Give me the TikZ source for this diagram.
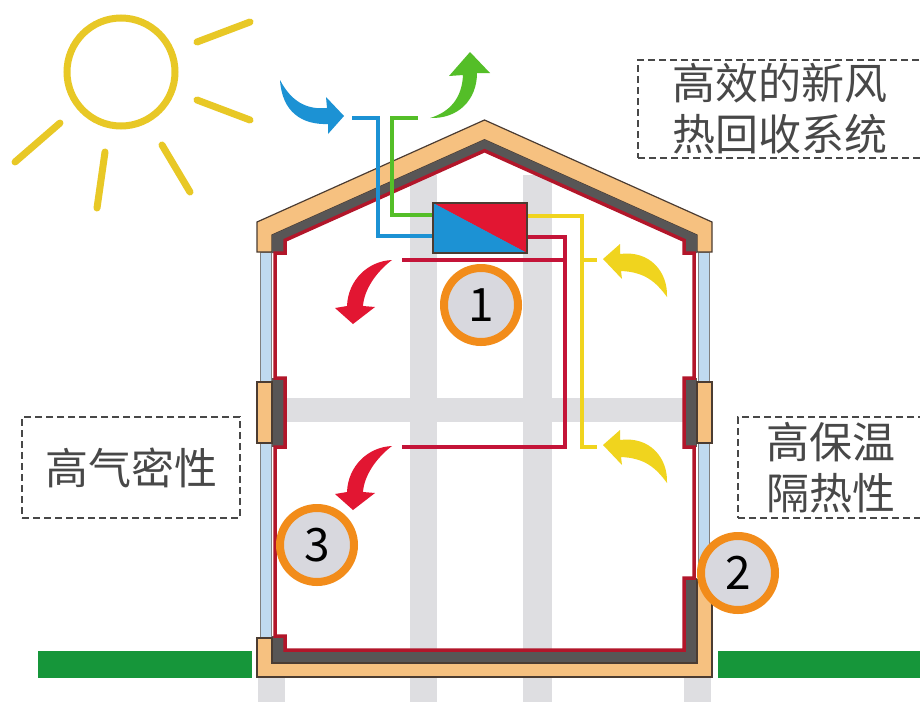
\documentclass[tikz,border=0pt]{standalone}
\usepackage{fontspec}
\setmainfont{Noto Sans CJK SC}
\usepackage{xcolor}
\usepackage{tikz}
\usetikzlibrary{positioning}

\definecolor{roofor}{RGB}{246,193,128}
\definecolor{wallgray}{RGB}{88,86,86}
\definecolor{sealred}{RGB}{178,22,42}
\definecolor{glassblue}{RGB}{192,218,240}
\definecolor{gridgray}{RGB}{222,222,225}
\definecolor{sunyel}{RGB}{232,200,38}
\definecolor{airyel}{RGB}{240,212,30}
\definecolor{airblue}{RGB}{28,146,212}
\definecolor{airgreen}{RGB}{84,190,40}
\definecolor{airred}{RGB}{226,22,50}
\definecolor{ductred}{RGB}{196,20,56}
\definecolor{ringor}{RGB}{242,140,26}
\definecolor{dotgray}{RGB}{216,216,222}
\definecolor{grass}{RGB}{22,150,58}
\definecolor{labelgray}{RGB}{72,72,72}
\definecolor{edgebrown}{RGB}{75,60,50}

\tikzset{
  duct/.style={line width=4pt},
  layer/.style={draw=edgebrown,line width=1.2pt},
  seal/.style={draw=sealred,line width=3.5pt},
  sunray/.style={sunyel,line width=7pt,line cap=round},
  numdot/.style={circle,draw=ringor,line width=8pt,fill=dotgray,minimum size=74pt,inner sep=0pt,font=\fontsize{46}{46}\selectfont},
  tagbox/.style={draw=labelgray,dash pattern=on 7pt off 4pt,line width=1.4pt,text=labelgray,align=center,inner sep=0pt,font=\fontsize{43}{51}\selectfont}
}

\begin{document}
\begin{tikzpicture}[x=1pt,y=-1pt]
\useasboundingbox (0,0) rectangle (920,702);
\fill[white] (0,0) rectangle (920,702);

% grid behind the house
\fill[gridgray] (410,175) rectangle (437,702);
\fill[gridgray] (523,175) rectangle (552,702);
\fill[gridgray] (285,398) rectangle (684,422);
\fill[gridgray] (258,677) rectangle (285,702);
\fill[gridgray] (684,677) rectangle (711,702);

% ground
\fill[grass] (38,651) rectangle (252,678);
\fill[grass] (718,651) rectangle (920,678);

% glazing
\filldraw[fill=glassblue,draw=gray,line width=1pt] (260,252) rectangle (271,638);
\filldraw[fill=glassblue,draw=gray,line width=1pt] (698,252) rectangle (709,578);

% roof
\filldraw[fill=roofor,layer] (257,252) -- (257,222) -- (484.5,120) -- (712,222) -- (712,252) -- (697,252) -- (697,235) -- (484.5,139.7) -- (272,235) -- (272,252) -- cycle;
\fill[wallgray] (272,253) -- (272,235) -- (484.5,139.7) -- (697,235) -- (697,253) -- (684,253) -- (684,240.3) -- (484.5,150.7) -- (285,240.3) -- (285,253) -- cycle;

% window frames
\fill[wallgray] (272,378) rectangle (285,447);
\fill[wallgray] (684,378) rectangle (697,447);
\filldraw[fill=roofor,layer] (257,382) rectangle (272,443);
\filldraw[fill=roofor,layer] (697,382) rectangle (712,443);

% floor slab
\fill[wallgray] (272,636) -- (285,636) -- (285,650) -- (684,650) -- (684,578) -- (697,578) -- (697,663) -- (272,663) -- cycle;
\filldraw[fill=roofor,layer] (257,638) -- (272,638) -- (272,663) -- (697,663) -- (697,580) -- (712,580) -- (712,677) -- (257,677) -- cycle;

% airtight layer
\draw[seal] (275,636) -- (285,636) -- (285,650) -- (684,650) -- (684,578) -- (694,578) -- (694,447) -- (684,447) -- (684,378) -- (694,378) -- (694,253) -- (684,253) -- (684,240.3) -- (484.5,150.7) -- (285,240.3) -- (285,253) -- (275,253) -- (275,378) -- (285,378) -- (285,447) -- (275,447) -- cycle;

% ducts
\coordinate (bluein) at (352,118);
\coordinate (greenout) at (418,118);
\coordinate (ylwhigh) at (597,260);
\coordinate (ylwlow) at (597,447);
\coordinate (redhigh) at (402,260);
\coordinate (redlow) at (402,447);

\node[draw=edgebrown,line width=1.2pt,minimum width=94pt,minimum height=50pt,inner sep=0pt,
  path picture={
    \fill[airred] (path picture bounding box.north west) -- (path picture bounding box.north east) -- (path picture bounding box.south east) -- cycle;
    \fill[airblue] (path picture bounding box.north west) -- (path picture bounding box.south west) -- (path picture bounding box.south east) -- cycle;
  }] (hrv) at (480,228) {};

\draw[duct,airblue] (bluein) -- (378,118) |- ([yshift=-8pt]hrv.west);
\draw[duct,airgreen] (greenout) -- (392,118) |- ([yshift=13pt]hrv.west);
\draw[duct,airyel] ([yshift=12pt]hrv.east) -| (582,447) -- (ylwlow);
\draw[duct,airyel] (582,260) -- (ylwhigh);
\draw[duct,ductred] ([yshift=-9pt]hrv.east) -| (565,447) -- (redlow);
\draw[duct,ductred] (redhigh) -- (565,260);

% redraw the box over the duct ends
\node[draw=edgebrown,line width=1.2pt,minimum width=94pt,minimum height=50pt,inner sep=0pt,
  path picture={
    \fill[airred] (path picture bounding box.north west) -- (path picture bounding box.north east) -- (path picture bounding box.south east) -- cycle;
    \fill[airblue] (path picture bounding box.north west) -- (path picture bounding box.south west) -- (path picture bounding box.south east) -- cycle;
  }] at (hrv) {};

% air flow arrows
\fill[airblue] (280,80) .. controls (282,112) and (302,125) .. (328,124)
  -- (328,134) -- (344,116) -- (326,97) -- (327,108)
  .. controls (306,110) and (291,101) .. (280,80) -- cycle;
\fill[airgreen] (430,118) .. controls (458,119) and (477,100) .. (477,73)
  -- (490,73) -- (470,52) -- (449,76) -- (463,75)
  .. controls (462,98) and (450,112) .. (430,118) -- cycle;
\foreach \dy in {0,186}{
  \begin{scope}[shift={(0,\dy)}]
  \fill[airred] (392,260) .. controls (368,261) and (348,280) .. (347,306)
    -- (335,308) -- (353,324) -- (375,307) -- (363,306)
    .. controls (364,290) and (376,272) .. (392,260) -- cycle;
  \fill[airyel] (667,297) .. controls (668,272) and (650,250) .. (620,254)
    -- (620,244) -- (603,259) -- (622,279) -- (621,271)
    .. controls (645,272) and (656,282) .. (667,297) -- cycle;
  \end{scope}
}

% markers
\node[numdot] (n1) at (481,305) {1};
\node[numdot] (n2) at (738,573) {2};
\node[numdot] (n3) at (317,545) {3};

% labels
\node[tagbox,minimum width=284pt,minimum height=98pt] (heatbox) at (780,109) {高效的新风\\热回收系统};
\node[tagbox,minimum width=218pt,minimum height=101pt] (airbox) at (131,467.5) {高气密性};
\node[tagbox,minimum width=186pt,minimum height=101pt] (insulbox) at (831,467.5) {高保温\\隔热性};

% sun
\draw[sunyel,line width=7pt] (121,72) circle (54pt);
\draw[sunray] (197,42) -- (250,22);
\draw[sunray] (197,100) -- (250,120);
\draw[sunray] (162,145) -- (190,192);
\draw[sunray] (105,152) -- (97,208);
\draw[sunray] (60,123) -- (15,162);
\end{tikzpicture}
\end{document}
